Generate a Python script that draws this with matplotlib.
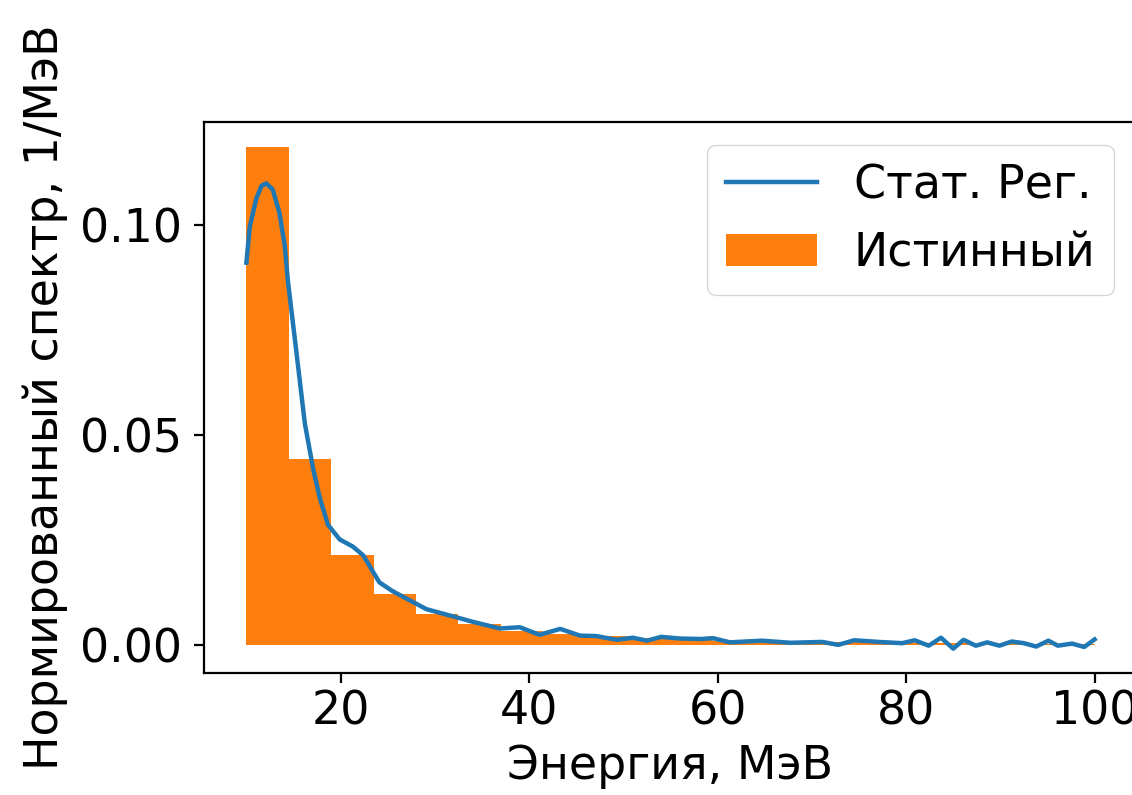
import matplotlib
matplotlib.use("Agg")
import matplotlib.pyplot as plt
import numpy as np

# Histogram (true spectrum), 20 bins of 4.5 MeV between 10 and 100
bin_edges = [10 + 4.5 * i for i in range(21)]
true_vals = [0.1185, 0.0443, 0.0214, 0.0121, 0.0073, 0.0050, 0.0032, 0.0027,
             0.0021, 0.0016, 0.0013, 0.0010, 0.0008, 0.0007, 0.0006, 0.0005,
             0.0004, 0.0003, 0.0003, 0.0002]

# Statistical regularization curve
reg_x = [10.0, 10.35, 11.05, 11.6, 12.1, 12.8, 13.5, 14.06, 14.4, 15.3, 16.2, 17.1,
         17.8, 18.65, 19.9, 21.3, 22.4, 24.1, 25.5, 27.0, 29.1, 31.9, 34.0, 36.9,
         39.0, 41.1, 43.3, 45.4, 47.1, 49.3, 51.0, 52.5, 54.0, 56.1, 58.3, 59.5,
         61.3, 64.7, 67.7, 71.1, 72.8, 74.5, 77.1, 79.6, 80.9, 82.4, 83.7, 85.0,
         86.1, 87.4, 88.6, 89.9, 91.2, 92.5, 93.8, 95.1, 96.1, 97.6, 98.9, 100.0]
reg_y = [0.0910, 0.0995, 0.1063, 0.1093, 0.1099, 0.1084, 0.1029, 0.0952, 0.0867,
         0.0698, 0.0527, 0.0417, 0.0349, 0.0286, 0.0251, 0.0234, 0.0213, 0.0149,
         0.0128, 0.0110, 0.0085, 0.0068, 0.0055, 0.0039, 0.0042, 0.0024, 0.0038,
         0.0022, 0.0021, 0.0012, 0.0017, 0.0010, 0.0019, 0.0015, 0.0014, 0.0016,
         0.0006, 0.0010, 0.0005, 0.0007, 0.0000, 0.0011, 0.0007, 0.0004, 0.0011,
         -0.0002, 0.0017, -0.0009, 0.0012, -0.0002, 0.0006, -0.0002, 0.0008,
         0.0004, -0.0004, 0.0010, -0.0002, 0.0003, -0.0005, 0.0013]

W, H = 1132, 795
fig = plt.figure(figsize=(W / 100, H / 100), dpi=100)
left, right, top, bottom = 204, 1137, 122, 673
ax = fig.add_axes([left / W, 1 - bottom / H, (right - left) / W, (bottom - top) / H])

fs = 33
widths = np.diff(bin_edges)
ax.plot(reg_x, reg_y, color="#1f77b4", lw=3.2, label="Стат. Рег.",
        solid_joinstyle="round")
ax.bar(bin_edges[:-1], true_vals, width=widths, align="edge", color="#ff7f0e",
       label="Истинный")

ax.set_xlim(5.5, 104.5)
ax.set_ylim(-0.0067, 0.1245)
ax.set_xticks([20, 40, 60, 80, 100])
ax.set_yticks([0.0, 0.05, 0.10])
ax.set_yticklabels(["0.00", "0.05", "0.10"])
ax.tick_params(labelsize=fs, width=1.6, length=7.5)
ax.tick_params(axis="y", pad=8)
ax.tick_params(axis="x", pad=4.5)
for s in ax.spines.values():
    s.set_linewidth(1.6)

ax.set_xlabel("Энергия, МэВ", fontsize=fs, labelpad=7)
ax.set_ylabel("Нормированный спектр, 1/МэВ", fontsize=fs, labelpad=9)
ax.legend(fontsize=fs, loc="upper right", framealpha=0.8)

fig.savefig("out.png", dpi=100)
